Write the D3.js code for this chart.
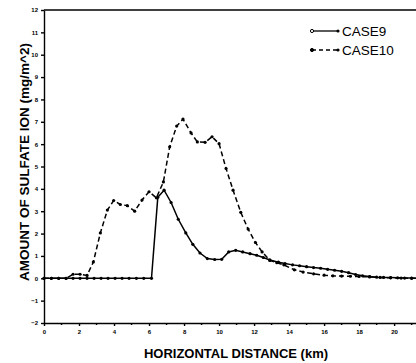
<!DOCTYPE html>
<html>
<head>
<meta charset="utf-8">
<script src="https://cdn.jsdelivr.net/npm/d3@7"></script>
<style>
  body { margin: 0; background: #fff; }
  svg { display: block; font-family: "Liberation Sans", Arial, sans-serif; }
  .axis path, .axis line { stroke: #000; stroke-width: 1.4; }
  .axis text { font-size: 6px; font-weight: bold; fill: #000; }
  .line { fill: none; stroke: #000; stroke-width: 1.5; }
</style>
</head>
<body>
<div id="chart"></div>
<script>

// horizontal distance (km) and amount (mg/m^2)
var case9X = [0, 0.42, 0.84, 1.26, 1.66, 2.06, 2.46, 2.86, 3.26, 3.66, 4.06, 4.46, 4.86, 5.28, 5.7, 6.14,
  6.5, 6.86, 7.26, 7.67, 8.1, 8.5, 8.91, 9.33, 9.75, 10.15, 10.55, 10.95, 11.35, 11.77, 12.15, 12.53,
  12.9, 13.39, 13.77, 14.2, 14.6, 15.0, 15.4, 15.8, 16.2, 16.6, 17.0, 17.4, 17.8, 18.2, 18.6, 19.0,
  19.4, 19.8, 20.2, 20.6, 21.0, 21.4];
var case9Y = [0, 0, 0, 0, 0, 0, 0, 0, 0, 0, 0, 0, 0, 0, 0, 0,
  3.62, 3.94, 3.39, 2.64, 2.03, 1.52, 1.13, 0.88, 0.84, 0.85, 1.18, 1.25, 1.18, 1.1, 1.03, 0.93,
  0.82, 0.72, 0.66, 0.6, 0.56, 0.52, 0.48, 0.45, 0.4, 0.36, 0.31, 0.25, 0.17, 0.11, 0.08, 0.05,
  0.04, 0.03, 0.02, 0.01, 0.01, 0];

var case10X = [0, 0.42, 0.84, 1.26, 1.66, 2.06, 2.46, 2.82, 3.22, 3.62, 3.98, 4.36, 4.76, 5.18, 5.6, 6.0,
  6.42, 6.82, 7.18, 7.58, 7.94, 8.4, 8.76, 9.2, 9.6, 10.0, 10.4, 10.8, 11.24, 11.66, 12.08, 12.46,
  12.9, 13.3, 13.7, 14.3, 14.8, 15.4, 16.0, 16.5, 17.0, 17.5, 18.0, 18.6, 19.2, 19.8, 20.4, 21.0, 21.4];
var case10Y = [0, 0, 0, 0, 0.18, 0.18, 0.13, 0.73, 2.03, 3.05, 3.48, 3.3, 3.25, 3.0, 3.5, 3.87,
  3.6, 4.31, 5.88, 6.81, 7.12, 6.5, 6.1, 6.08, 6.33, 6.02, 4.91, 3.94, 2.95, 2.2, 1.6, 1.18,
  0.8, 0.7, 0.6, 0.38, 0.28, 0.2, 0.14, 0.11, 0.1, 0.09, 0.08, 0.06, 0.04, 0.02, 0.01, 0, 0];

var xTicks = [0, 2, 4, 6, 8, 10, 12, 14, 16, 18, 20];
var xMinorTicks = [1, 3, 5, 7, 9, 11, 13, 15, 17, 19, 21];
var yTicks = [-2, -1, 0, 1, 2, 3, 4, 5, 6, 7, 8, 9, 10, 11, 12];

var seriesNames = ['CASE9', 'CASE10'];

var width = 416, height = 363;
var margin = {top: 10, right: 0, bottom: 40, left: 44};

var svg = d3.select('#chart').append('svg')
  .attr('width', width)
  .attr('height', height);

var x = d3.scaleLinear()
  .domain([0, 21.25])
  .range([margin.left, width - margin.right]);

var y = d3.scaleLinear()
  .domain([-2, 12])
  .range([height - margin.bottom, margin.top]);

// Axes
var xAxis = d3.axisBottom(x)
  .tickValues(xTicks)
  .tickFormat(d3.format('d'))
  .tickSize(3)
  .tickSizeOuter(0);

svg.append('g')
  .attr('class', 'x axis')
  .attr('transform', 'translate(0,' + y(-2) + ')')
  .call(xAxis)
  .selectAll('text').attr('dy', '0.9em');

svg.append('g')
  .attr('class', 'x axis minor')
  .attr('transform', 'translate(0,' + y(-2) + ')')
  .selectAll('line')
  .data(xMinorTicks)
  .enter().append('line')
  .attr('x1', function(d){ return x(d); })
  .attr('x2', function(d){ return x(d); })
  .attr('y1', 0)
  .attr('y2', 2);

var yAxis = d3.axisLeft(y)
  .tickValues(yTicks)
  .tickFormat(d3.format('d'))
  .tickSize(3)
  .tickSizeOuter(0);

svg.append('g')
  .attr('class', 'y axis')
  .attr('transform', 'translate(' + x(0) + ',0)')
  .call(yAxis);

// top frame line
svg.append('line')
  .attr('x1', x(0)).attr('x2', width)
  .attr('y1', y(12)).attr('y2', y(12))
  .attr('stroke', '#000').attr('stroke-width', 1.4);

// Lines
var line = d3.line()
  .x(function(d){ return x(d[0]); })
  .y(function(d){ return y(d[1]); });

var series = [
  {name: seriesNames[0], pts: d3.zip(case9X, case9Y), dash: null},
  {name: seriesNames[1], pts: d3.zip(case10X, case10Y), dash: '5,3'}
];

var g = svg.append('g').attr('class', 'lines');

series.forEach(function(s){
  g.append('path')
    .datum(s.pts)
    .attr('class', 'line')
    .attr('stroke-dasharray', s.dash)
    .attr('d', line);

  g.selectAll('.dot-' + s.name)
    .data(s.pts)
    .enter().append('circle')
    .attr('class', 'dot-' + s.name)
    .attr('cx', function(d){ return x(d[0]); })
    .attr('cy', function(d){ return y(d[1]); })
    .attr('r', 1.6)
    .attr('fill', '#000');
});

// Legend
var legend = svg.append('g').attr('class', 'legend');
series.forEach(function(s, i){
  var ly = 31 + i * 19;
  legend.append('line')
    .attr('x1', 312).attr('x2', 338)
    .attr('y1', ly).attr('y2', ly)
    .attr('stroke', '#000').attr('stroke-width', 1.3)
    .attr('stroke-dasharray', s.dash ? '4,3' : null);
  legend.append('circle')
    .attr('cx', 312).attr('cy', ly).attr('r', 1.6)
    .attr('fill', i === 0 ? '#fff' : '#000')
    .attr('stroke', '#000').attr('stroke-width', 1);
  legend.append('circle')
    .attr('cx', 338).attr('cy', ly).attr('r', 1.6)
    .attr('fill', '#000');
  legend.append('text')
    .attr('x', 342).attr('y', ly + 5)
    .style('font-size', '13.5px')
    .text(s.name);
});

// Axis titles
svg.append('text')
  .attr('transform', 'translate(29,' + 162 + ') rotate(-90)')
  .attr('text-anchor', 'middle')
  .style('font-size', '13.5px')
  .style('font-weight', 'bold')
  .text('AMOUNT OF SULFATE ION (mg/m^2)');

svg.append('text')
  .attr('x', 236)
  .attr('y', 358)
  .attr('text-anchor', 'middle')
  .style('font-size', '13px')
  .style('font-weight', 'bold')
  .text('HORIZONTAL DISTANCE (km)');

</script>
</body>
</html>
